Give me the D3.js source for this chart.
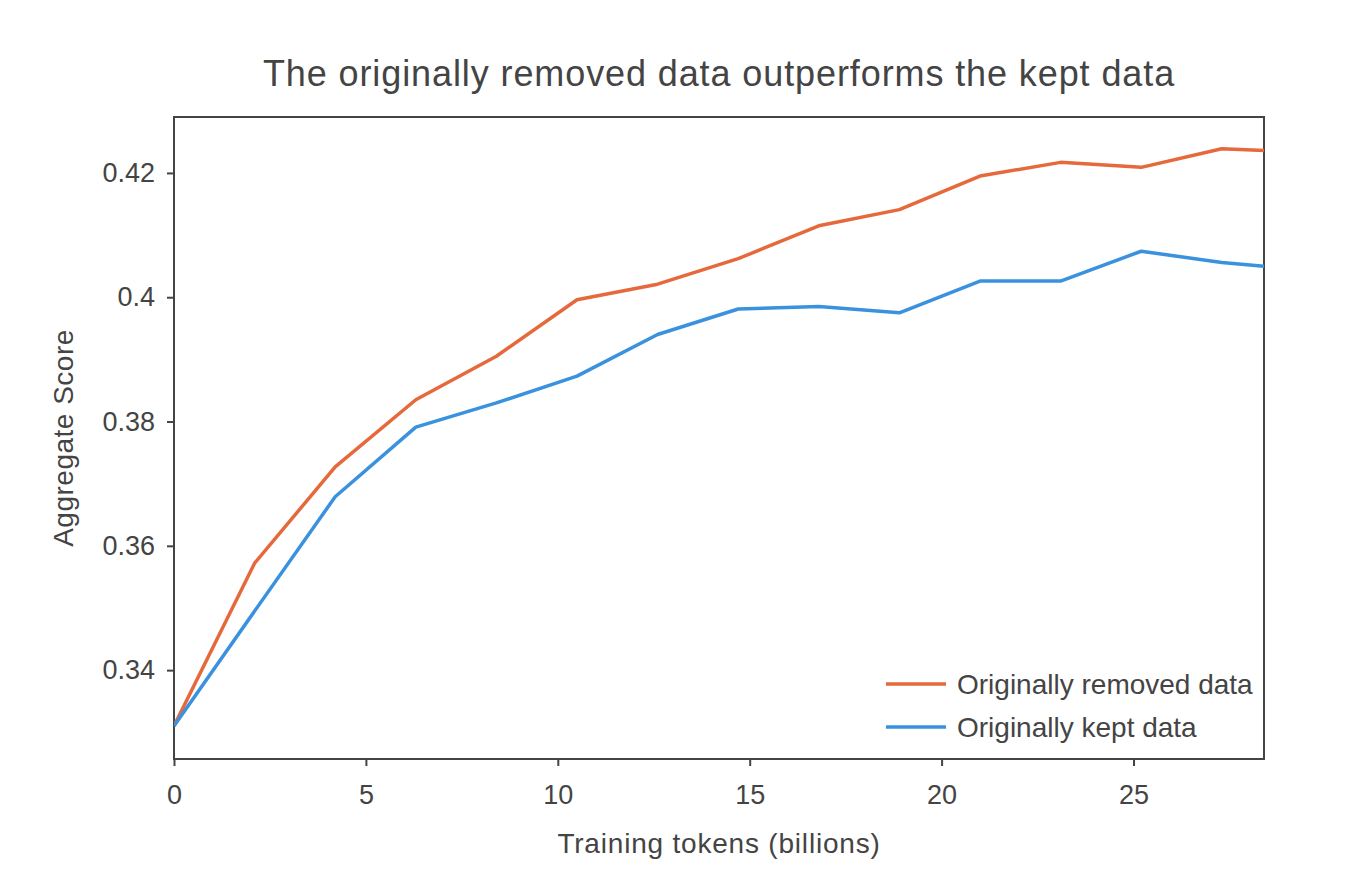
<!DOCTYPE html>
<html lang="en">
<head>
    <meta charset="UTF-8">
    <title>Removed vs kept data</title>
    <script src="https://d3js.org/d3.v7.min.js"></script>
    <style>
        body { margin: 0; background: #fff; font-family: "Liberation Sans", Arial, sans-serif; }
        .tick text { fill: #444; font-size: 27px; font-family: "Liberation Sans", Arial, sans-serif; }
        .tick line { stroke: #444; }
    </style>
</head>
<body>
<div id="chart"></div>
<script>
    // data
    const tokens = [0, 2.1, 4.2, 6.3, 8.4, 10.5, 12.6, 14.7, 16.8, 18.9, 21, 23.1, 25.2, 27.3, 28.4];
    const removedScores = [0.331, 0.3572, 0.3727, 0.3835, 0.3905, 0.3996, 0.4021, 0.4062, 0.4115, 0.4141, 0.4195, 0.4217, 0.4209, 0.4239, 0.4236];
    const keptScores = [0.331, 0.3495, 0.3679, 0.3791, 0.3830, 0.3873, 0.3940, 0.3981, 0.3985, 0.3975, 0.4026, 0.4026, 0.4074, 0.4056, 0.4050];
    const xTicks = [0, 5, 10, 15, 20, 25];
    const yTicks = [0.34, 0.36, 0.38, 0.4, 0.42];

    const series = [
        { name: "Originally removed data", values: removedScores, color: "#e5693b" },
        { name: "Originally kept data", values: keptScores, color: "#3a92df" }
    ];

    const width = 1356, height = 890;
    const margin = { top: 117, right: 92, bottom: 131, left: 174 };
    const innerW = width - margin.left - margin.right;
    const innerH = height - margin.top - margin.bottom;

    const svg = d3.select("#chart").append("svg")
        .attr("width", width)
        .attr("height", height);

    const x = d3.scaleLinear().domain([0, 28.4]).range([0, innerW]);
    const y = d3.scaleLinear().domain([0.3257, 0.429]).range([innerH, 0]);

    const g = svg.append("g")
        .attr("transform", `translate(${margin.left},${margin.top})`);

    g.append("defs").append("clipPath").attr("id", "clip")
      .append("rect").attr("width", innerW).attr("height", innerH);

    // frame
    g.append("rect")
        .attr("width", innerW)
        .attr("height", innerH)
        .attr("fill", "none")
        .attr("stroke", "#444")
        .attr("stroke-width", 2);

    const xAxis = g.append("g")
        .attr("transform", `translate(0,${innerH})`)
        .call(d3.axisBottom(x).tickValues(xTicks).tickSize(7).tickPadding(19).tickFormat(d3.format("d")));
    const yAxis = g.append("g")
        .call(d3.axisLeft(y).tickValues(yTicks).tickSize(7).tickPadding(12).tickFormat(d => +d.toFixed(2)));
    [xAxis, yAxis].forEach(a => {
        a.select(".domain").remove();
        a.selectAll(".tick line").attr("stroke-width", 2);
    });

    const line = d3.line()
        .x((d, i) => x(tokens[i]))
        .y(d => y(d));

    g.append("g").attr("clip-path", "url(#clip)")
      .selectAll("path.series")
      .data(series)
      .join("path")
        .attr("class", "series")
        .attr("fill", "none")
        .attr("stroke", d => d.color)
        .attr("stroke-width", 3.5)
        .attr("stroke-linejoin", "round")
        .attr("d", d => line(d.values));

    // legend
    const legend = g.append("g")
        .attr("transform", `translate(${innerW - 378},${innerH - 75})`);
    series.forEach((s, i) => {
        const row = legend.append("g").attr("transform", `translate(0,${i * 43})`);
        row.append("line")
            .attr("x1", 0).attr("x2", 60)
            .attr("stroke", s.color).attr("stroke-width", 3.5);
        row.append("text")
            .attr("x", 71).attr("dy", "0.35em")
            .attr("fill", "#444")
            .style("font-size", "28px")
            .text(s.name);
    });

    // title and axis labels
    svg.append("text")
        .attr("x", margin.left + innerW / 2)
        .attr("y", 86)
        .attr("text-anchor", "middle")
        .attr("fill", "#444")
        .style("font-size", "36px")
        .style("letter-spacing", "0.9px")
        .text("The originally removed data outperforms the kept data");

    svg.append("text")
        .attr("x", margin.left + innerW / 2)
        .attr("y", 853)
        .attr("text-anchor", "middle")
        .attr("fill", "#444")
        .style("font-size", "28px")
        .style("letter-spacing", "0.8px")
        .text("Training tokens (billions)");

    svg.append("text")
        .attr("transform", `translate(73,${margin.top + innerH / 2}) rotate(-90)`)
        .attr("text-anchor", "middle")
        .attr("fill", "#444")
        .style("font-size", "28px")
        .style("letter-spacing", "0.5px")
        .text("Aggregate Score");
</script>
</body>
</html>
